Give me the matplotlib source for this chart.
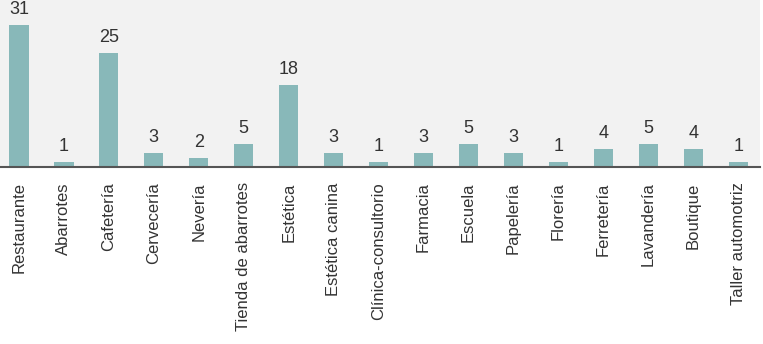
import matplotlib.pyplot as plt

# Datos
giros = ["Restaurante", "Abarrotes", "Cafetería", "Cervecería", "Nevería",
         "Tienda de abarrotes", "Estética", "Estética canina", "Clínica-consultorio",
         "Farmacia", "Escuela", "Papelería", "Florería", "Ferretería",
         "Lavandería", "Boutique", "Taller automotriz"]
cantidad = [31, 1, 25, 3, 2, 5, 18, 3, 1, 3, 5, 3, 1, 4, 5, 4, 1]

plt.rcParams['font.family'] = ['Liberation Sans', 'DejaVu Sans']

fig = plt.figure(figsize=(7.63, 3.44), dpi=100)
ax = fig.add_axes([0, 1 - 167 / 344, 760 / 763, 167 / 344])
ax.set_facecolor("#f2f2f2")

x = range(len(giros))
barras = ax.bar(x, cantidad, width=0.43, color="#88b8b9")
for b, v in zip(barras, cantidad):
    ax.annotate(str(v), (b.get_x() + b.get_width() / 2, v), xytext=(0, 5),
                textcoords="offset points", ha="center", va="bottom",
                fontsize=13, color="#333333", annotation_clip=False)

ax.set_xlim(-0.42, len(giros) - 1 + 0.48)
ax.set_ylim(0, 36.5)
ax.set_xticks(list(x))
ax.set_xticklabels(giros, rotation=90, fontsize=12, color="#333333")
ax.tick_params(axis="x", length=0, pad=11)
ax.set_yticks([])
for s in ["top", "left", "right"]:
    ax.spines[s].set_visible(False)
ax.spines["bottom"].set_color("#555555")
ax.spines["bottom"].set_linewidth(1.5)

fig.savefig("out.png", dpi=100)
